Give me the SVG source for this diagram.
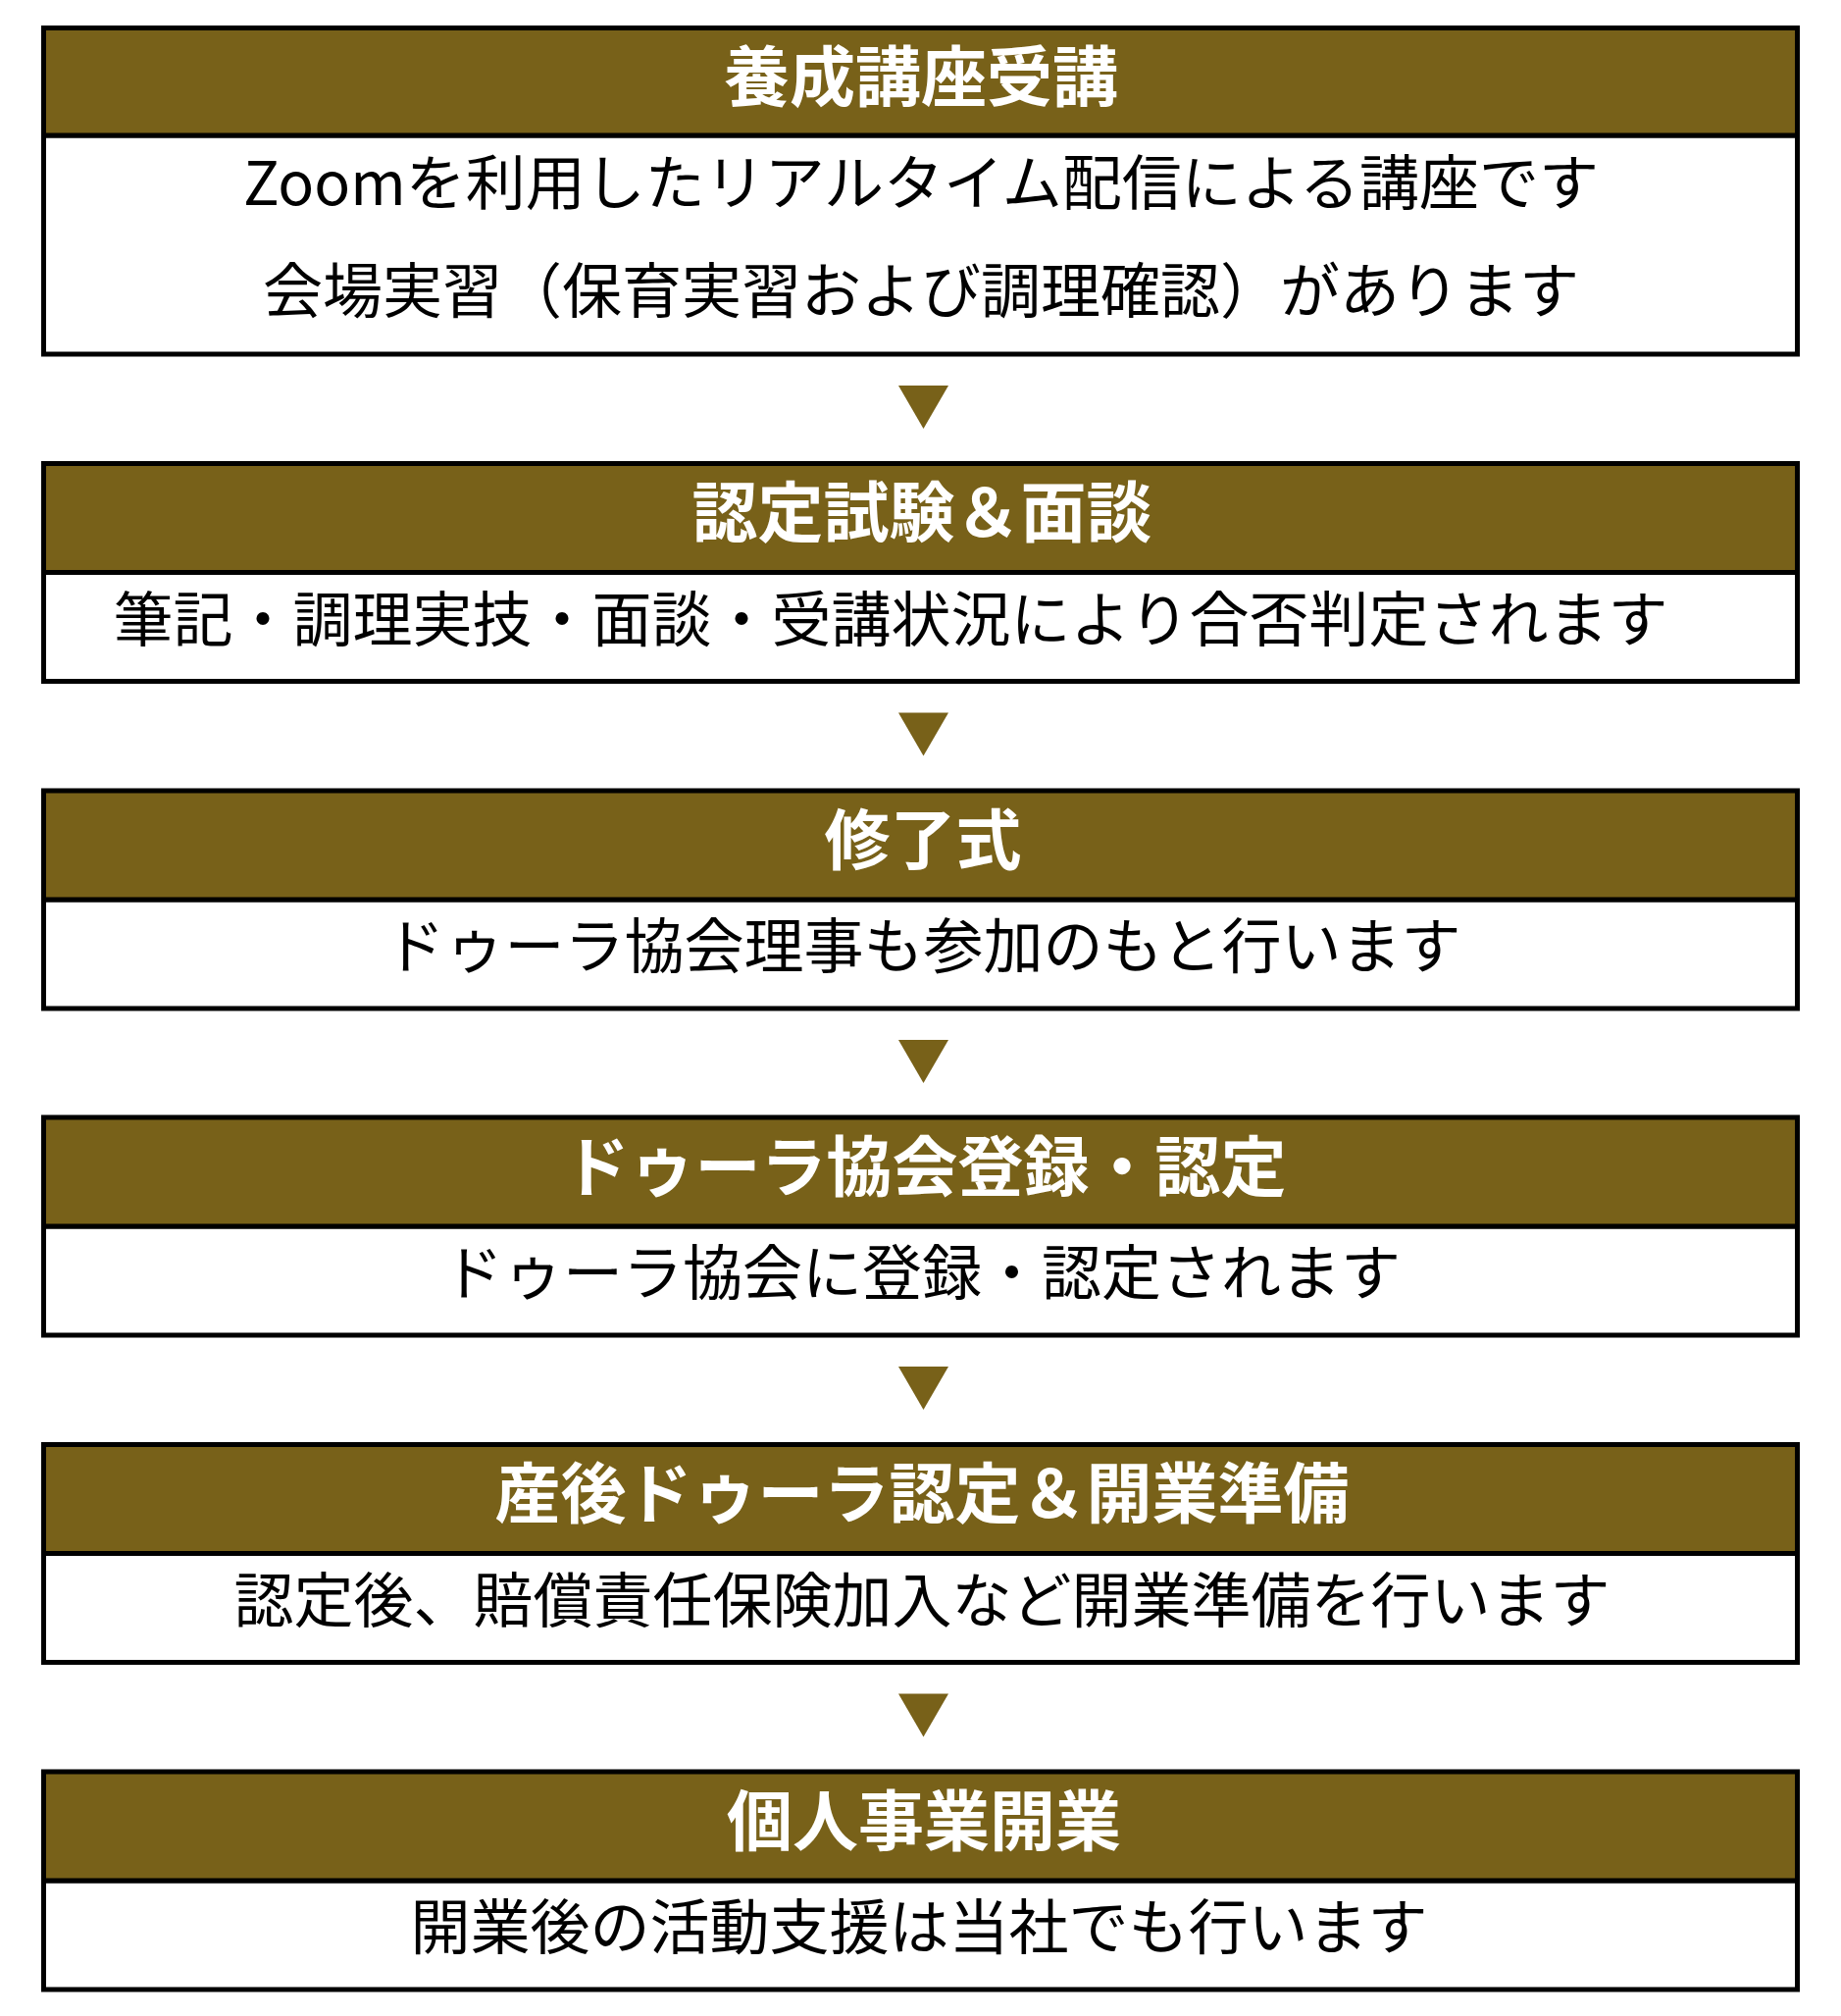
<svg xmlns="http://www.w3.org/2000/svg" width="1877" height="2055" viewBox="0 0 1877 2055">
<style>
.hd{fill:#786119;stroke:#000;stroke-width:5}
.bd{fill:#fff;stroke:#000;stroke-width:5}
.ht{font-family:"Noto Sans CJK JP","Noto Sans CJK SC",sans-serif;font-weight:700;font-size:67px;fill:#fff;text-anchor:middle}
.bt{font-family:"Noto Sans CJK JP","Noto Sans CJK SC",sans-serif;font-weight:400;font-size:61px;fill:#000;text-anchor:middle}
.ar{fill:#786119}
</style>
<rect width="1877" height="2055" fill="#fff"/>
<g id="step1">
<rect class="bd" x="44.5" y="138" width="1788" height="223"/>
<rect class="hd" x="44.5" y="28.5" width="1788" height="109.5"/>
<text class="ht" x="939" y="102.5">養成講座受講</text>
<text class="bt" x="939" y="208.6">Zoomを利用したリアルタイム配信による講座です</text>
<text class="bt" x="939" y="318.6">会場実習（保育実習および調理確認）があります</text>
</g>
<g id="step2">
<rect class="bd" x="44.5" y="583.5" width="1788" height="111"/>
<rect class="hd" x="44.5" y="472.5" width="1788" height="111"/>
<text class="ht" x="940" y="547.3">認定試験＆面談</text>
<text class="bt" x="908" y="653.6">筆記・調理実技・面談・受講状況により合否判定されます</text>
</g>
<g id="step3">
<rect class="bd" x="44.5" y="917" width="1788" height="111"/>
<rect class="hd" x="44.5" y="806" width="1788" height="111"/>
<text class="ht" x="941" y="880.8">修了式</text>
<text class="bt" x="941" y="987.1">ドゥーラ協会理事も参加のもと行います</text>
</g>
<g id="step4">
<rect class="bd" x="44.5" y="1250" width="1788" height="111"/>
<rect class="hd" x="44.5" y="1139" width="1788" height="111"/>
<text class="ht" x="943" y="1213.8">ドゥーラ協会登録・認定</text>
<text class="bt" x="940" y="1320.1">ドゥーラ協会に登録・認定されます</text>
</g>
<g id="step5">
<rect class="bd" x="44.5" y="1583.5" width="1788" height="111"/>
<rect class="hd" x="44.5" y="1472.5" width="1788" height="111"/>
<text class="ht" x="940" y="1547.3">産後ドゥーラ認定＆開業準備</text>
<text class="bt" x="940" y="1653.6">認定後、賠償責任保険加入など開業準備を行います</text>
</g>
<g id="step6">
<rect class="bd" x="44.5" y="1917" width="1788" height="111"/>
<rect class="hd" x="44.5" y="1806" width="1788" height="111"/>
<text class="ht" x="942" y="1880.8">個人事業開業</text>
<text class="bt" x="937" y="1987.1">開業後の活動支援は当社でも行います</text>
</g>
<g id="connectors">
<polygon class="ar" points="916,393 967,393 941.5,437"/>
<polygon class="ar" points="916,726.5 967,726.5 941.5,770.5"/>
<polygon class="ar" points="916,1060 967,1060 941.5,1104"/>
<polygon class="ar" points="916,1393 967,1393 941.5,1437"/>
<polygon class="ar" points="916,1726.5 967,1726.5 941.5,1770.5"/>
</g>
</svg>
